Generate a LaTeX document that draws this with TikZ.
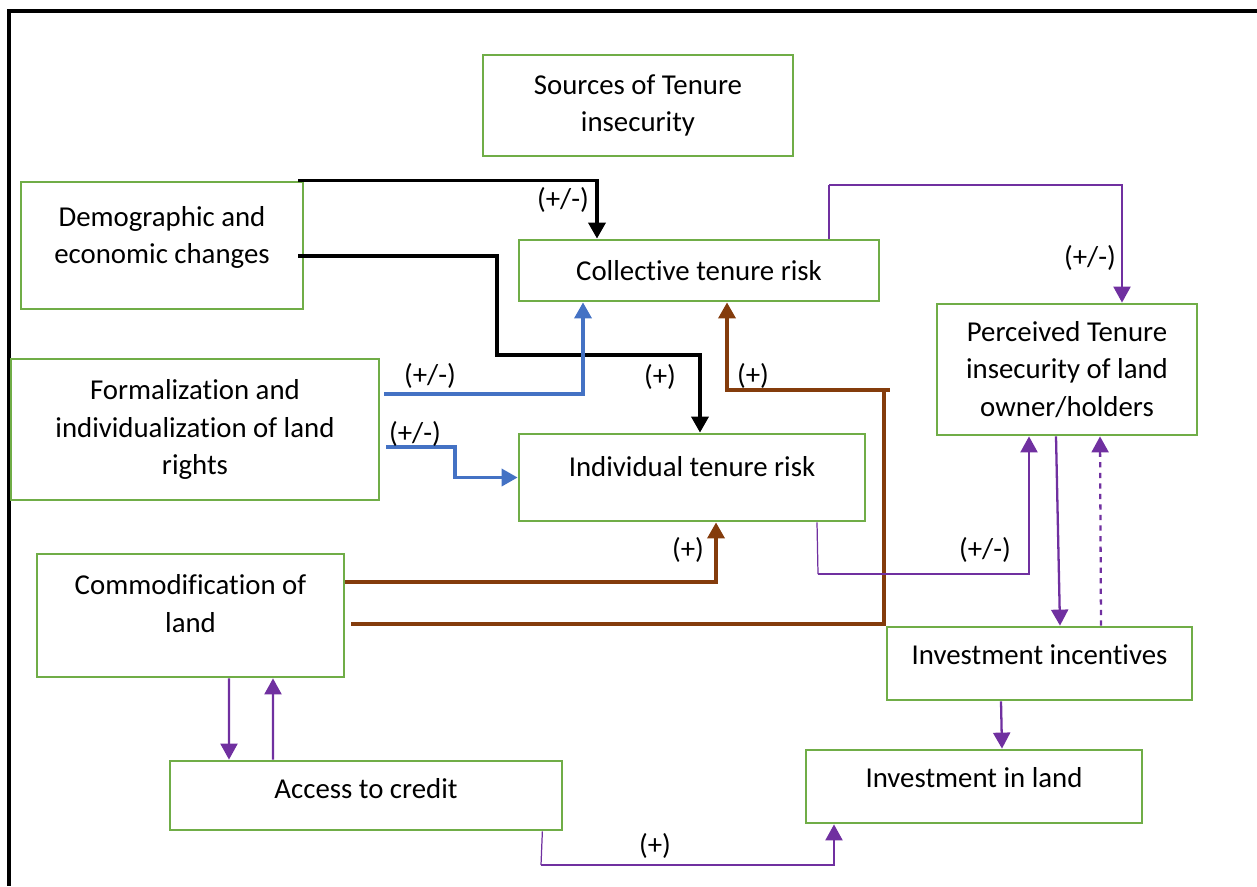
\documentclass[tikz,border=0pt]{standalone}
\usepackage{fontspec}
\setmainfont{Carlito}[Ligatures=NoCommon]
\usetikzlibrary{positioning, calc, arrows.meta}

\definecolor{boxgreen}{HTML}{70AD47}
\definecolor{linkblue}{HTML}{4472C4}
\definecolor{linkbrown}{HTML}{843C0C}
\definecolor{linkpurple}{HTML}{7030A0}

\begin{document}
\begin{tikzpicture}[x=0.02cm, y=-0.02cm,
    box/.style={draw=boxgreen, line width=1.6pt, align=center, inner sep=0pt,
                font=\fontsize{16.4}{21.5}\selectfont},
    lift/.style={text depth=#1},
    sign/.style={inner sep=0pt, font=\fontsize{16.4}{21.5}\selectfont},
    tip/.style={-{Triangle[width=0.34cm, length=0.32cm]}},
    blk/.style={tip, line width=2pt, black},
    blu/.style={tip, line width=2pt, linkblue},
    brn/.style={tip, line width=2pt, linkbrown},
    pur/.style={tip, line width=1.3pt, linkpurple},
    purthin/.style={line width=0.7pt, linkpurple}]
        \useasboundingbox (0,0) rectangle (1257,886);
        \draw[line width=2pt] (1257,11) -- (9,11) -- (9,886);   %frame

        % boxes
        \node[box, minimum width=6.2cm, minimum height=2.02cm] (src) at (638,105.5) {Sources of Tenure\\insecurity};
        \node[box, lift=0.42cm, minimum width=5.64cm, minimum height=2.54cm] (demo) at (162,245.5) {Demographic and\\economic changes};
        \node[box, minimum width=7.2cm, minimum height=1.22cm] (coll) at (699,270.5) {Collective tenure risk};
        \node[box, minimum width=5.2cm, minimum height=2.62cm] (perc) at (1067,369.5) {Perceived Tenure\\insecurity of land\\owner/holders};
        \node[box, minimum width=7.36cm, minimum height=2.82cm] (form) at (195,429.5) {Formalization and\\individualization of land\\rights};
        \node[box, lift=0.46cm, minimum width=6.92cm, minimum height=1.74cm] (indiv) at (692,477.5) {Individual tenure risk};
        \node[box, lift=0.48cm, minimum width=6.14cm, minimum height=2.46cm] (commod) at (190.5,615.5) {Commodification of\\land};
        \node[box, lift=0.36cm, minimum width=6.1cm, minimum height=1.46cm] (inc) at (1039.5,663.5) {Investment incentives};
        \node[box, lift=0.28cm, minimum width=7.84cm, minimum height=1.38cm] (credit) at (366,795.5) {Access to credit};
        \node[box, lift=0.36cm, minimum width=6.72cm, minimum height=1.46cm] (land) at (974,786.5) {Investment in land};

        % bends
        \coordinate (dbend) at (497,355);
        \coordinate (fbend) at (455,477.5);
        \coordinate (cbend) at (884,390);
        \coordinate (ptop) at (829,185);
        \coordinate (pbot) at (818,574);
        \coordinate (abot) at (541,865);

        % black
        \draw[blk] ($(demo.north east)+(-6,0)$) -| ($(coll.north)+(-102,0)$);
        \draw[blk] ($(demo.east)+(-6,10.5)$) -| (dbend) -| ($(indiv.north)+(8,0)$);

        % blue
        \draw[blu] ($(form.east)+(4,-35.5)$) -| ($(coll.south)+(-116,0)$);
        \draw[blu] ($(form.east)+(6,17.5)$) -| (fbend) -- (indiv.west);

        % brown
        \draw[brn] ($(commod.east)+(0,-33.5)$) -| ($(indiv.south)+(24,0)$);
        \draw[brn] ($(commod.east)+(6,8.5)$) -| (cbend) -| ($(coll.south)+(28,0)$);
        \draw[line width=2pt, linkbrown] (cbend) -- ++(6,0);   %stub

        % purple
        \draw[purthin] ($(coll.north)+(130,0)$) -- (ptop);
        \draw[pur] (ptop) -| ($(perc.north)+(55,0)$);
        \draw[purthin] ($(indiv.south)+(125,0)$) -- (pbot);
        \draw[pur] (pbot) -| ($(perc.south)+(-38,0)$);
        \draw[pur] ($(perc.south)+(-11,0)$) -- ($(inc.north)+(20.5,0)$);
        \draw[pur, dashed] ($(inc.north)+(61.5,0)$) -- ($(perc.south)+(33,0)$);
        \draw[pur] ($(inc.south)+(-38.5,0)$) -- ($(land.north)+(28,0)$);
        \draw[pur] ($(commod.south)+(38.5,0)$) -- ($(credit.north)+(-137,0)$);
        \draw[pur] ($(credit.north)+(-93,0)$) -- ($(commod.south)+(82.5,0)$);
        \draw[purthin] ($(credit.south east)+(-21,0)$) -- (abot);
        \draw[pur] (abot) -| ($(land.south)+(-140,0)$);

        % signs
        \node[sign] (s1) at (563,200) {(+/-)};
        \node[sign] (s2) at (660,377) {(+)};
        \node[sign] (s3) at (430,376) {(+/-)};
        \node[sign] (s4) at (415,434) {(+/-)};
        \node[sign] (s5) at (688,550) {(+)};
        \node[sign] (s6) at (753,376) {(+)};
        \node[sign] (s7) at (1090,258) {(+/-)};
        \node[sign] (s8) at (985,550) {(+/-)};
        \node[sign] (s9) at (655,846) {(+)};
\end{tikzpicture}
\end{document}
